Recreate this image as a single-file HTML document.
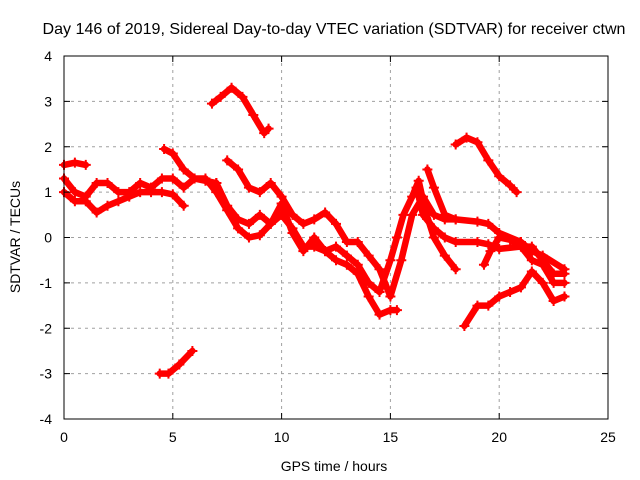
<!DOCTYPE html>
<html><head><meta charset="utf-8"><style>
body{margin:0;background:#fff}
svg{display:block;font-family:"Liberation Sans",sans-serif}
</style></head><body>
<svg width="640" height="480" viewBox="0 0 640 480">
<rect width="640" height="480" fill="#fff"/>
<text x="334" y="34" font-size="16" text-anchor="middle" textLength="583" lengthAdjust="spacingAndGlyphs">Day 146 of 2019, Sidereal Day-to-day VTEC variation (SDTVAR) for receiver ctwn</text>
<g id="grid"></g>
<g id="marks"></g>
<rect x="64" y="56" width="544" height="363" fill="none" stroke="#000" stroke-width="1"/>
<g id="ticks"></g>
<text x="334" y="471" font-size="14" text-anchor="middle">GPS time / hours</text>
<text transform="translate(20,237) rotate(-90)" font-size="14" text-anchor="middle">SDTVAR / TECUs</text>
</svg>
<script>
const xTicks=[0,5,10,15,20,25];
const yTicks=[-4,-3,-2,-1,0,1,2,3,4];
const trackA=[[0,1.6],[0.5,1.65],[1,1.6]];
const trackB1=[[0,1.3],[0.5,1.0],[1,0.9],[1.5,1.2],[2,1.2],[2.5,1.0],[3,1.0],[3.5,1.2],[4,1.1],[4.5,1.3],[5,1.3],[5.5,1.1],[6,1.3],[6.5,1.25],[7,1.2]];
const trackB2=[[0,1.0],[0.5,0.8],[1,0.8],[1.5,0.55],[2,0.7],[2.5,0.8],[3,0.9],[3.5,1.0],[4,1.0],[4.5,1.0],[5,0.95],[5.5,0.7]];
const trackC=[[4.6,1.95],[5,1.85],[5.5,1.5],[6,1.3],[6.5,1.3],[7,1.0],[7.5,0.6],[8,0.2],[8.5,0.0],[9,0.05],[9.5,0.3],[10,0.5],[10.5,0.2],[11,-0.2],[11.5,-0.2],[12,-0.3],[12.5,-0.5],[13,-0.6],[13.5,-0.8],[14,-1.3],[14.5,-1.7],[15,-1.6],[15.3,-1.6]];
const trackD=[[7.5,1.7],[8,1.5],[8.5,1.1],[9,1.0],[9.5,1.2],[10,0.9],[10.5,0.5],[11,0.3],[11.5,0.4],[12,0.55],[12.5,0.3],[13,-0.1],[13.5,-0.1],[14,-0.4],[14.5,-0.7],[15,-1.3],[15.5,-0.5],[16,0.5],[16.5,0.9],[17,0.5],[17.5,0.4],[18,0.4],[19,0.35],[19.5,0.3],[20,0.1],[21,-0.1],[21.5,-0.3],[22,-0.4],[23,-0.7]];
const trackE=[[7,1.2],[7.5,0.7],[8,0.4],[8.5,0.3],[9,0.5],[9.5,0.3],[10,0.75],[10.5,0.1],[11,-0.3],[11.5,0.0],[12,-0.3],[12.5,-0.2],[13,-0.4],[13.5,-0.6],[14,-1.0],[14.5,-1.2],[15,-0.5],[15.3,0.0],[15.6,0.5],[16,0.9],[16.3,1.25],[16.6,0.6],[17,0.0],[17.5,-0.4],[18,-0.7]];
const trackF=[[16.2,1.1],[16.5,0.5],[17,0.2],[17.5,0.0],[18,-0.1],[19,-0.1],[19.5,-0.15],[20,-0.25],[21,-0.2],[21.5,-0.2],[22,-0.5],[22.5,-0.8],[23,-0.8]];
const trackG=[[16.7,1.5],[17,1.1],[17.5,0.5],[18,0.4]];
const trackH=[[18,2.05],[18.5,2.2],[19,2.1],[19.5,1.7],[20,1.35],[20.5,1.15],[20.8,1.0]];
const trackI=[[18.4,-1.95],[19,-1.5],[19.5,-1.5],[20,-1.3],[20.5,-1.2],[21,-1.1],[21.5,-0.75],[22,-1.0],[22.5,-1.4],[23,-1.3]];
const trackJ=[[19.3,-0.6],[19.6,-0.3],[20,0.0],[20.5,-0.05],[21,-0.2],[21.5,-0.5],[22,-0.6],[22.5,-1.0],[23,-1.0]];
const trackK=[[6.8,2.95],[7.2,3.1],[7.7,3.3],[8.2,3.1],[8.7,2.7],[9.2,2.3],[9.4,2.4]];
const trackL=[[4.4,-3.0],[4.8,-3.0],[5.3,-2.8],[5.9,-2.5]];
const tracks=[trackA,trackB1,trackB2,trackC,trackD,trackE,trackF,trackG,trackH,trackI,trackJ,trackK,trackL];
const NS="http://www.w3.org/2000/svg";
const X=t=>64+t*(544/25);
const Y=v=>237.5-v*(363/8);
const grid=document.getElementById('grid'),ticks=document.getElementById('ticks'),marks=document.getElementById('marks');
function mk(tag,attrs,parent){const e=document.createElementNS(NS,tag);for(const k in attrs)e.setAttribute(k,attrs[k]);parent.appendChild(e);return e;}
xTicks.forEach(t=>{
 if(t>0&&t<25){const g=mk('line',{x1:X(t),x2:X(t),y1:56,y2:419,stroke:'#a0a0a0','stroke-dasharray':'3,4'},grid);
 
 }
 mk('line',{x1:X(t),x2:X(t),y1:419,y2:413,stroke:'#000'},ticks);
 mk('line',{x1:X(t),x2:X(t),y1:56,y2:62,stroke:'#000'},ticks);
 const l=mk('text',{x:X(t),y:442,'font-size':14,'text-anchor':'middle'},ticks);l.textContent=t;
 
 
});
yTicks.forEach(v=>{
 if(v>-4&&v<4){const g=mk('line',{x1:64,x2:608,y1:Y(v),y2:Y(v),stroke:'#a0a0a0','stroke-dasharray':'3,4'},grid);
 
 }
 mk('line',{x1:64,x2:70,y1:Y(v),y2:Y(v),stroke:'#000'},ticks);
 mk('line',{x1:608,x2:602,y1:Y(v),y2:Y(v),stroke:'#000'},ticks);
 const l=mk('text',{x:52,y:Y(v)+5,'font-size':14,'text-anchor':'end'},ticks);l.textContent=v;
 
 
});
tracks.forEach((tr,i)=>{
 const pl=mk('polyline',{points:tr.map(p=>X(p[0])+','+Y(p[1])).join(' '),fill:'none',stroke:'#ff0000','stroke-width':6.5,'stroke-linejoin':'round','stroke-linecap':'round'},marks);
 
 
 tr.forEach(p=>{
  const m=mk('path',{d:`M${X(p[0])-5},${Y(p[1])}h10M${X(p[0])},${Y(p[1])-5}v10`,stroke:'#ff0000','stroke-width':2},marks);
  
  
 });
});
</script>
</body></html>
